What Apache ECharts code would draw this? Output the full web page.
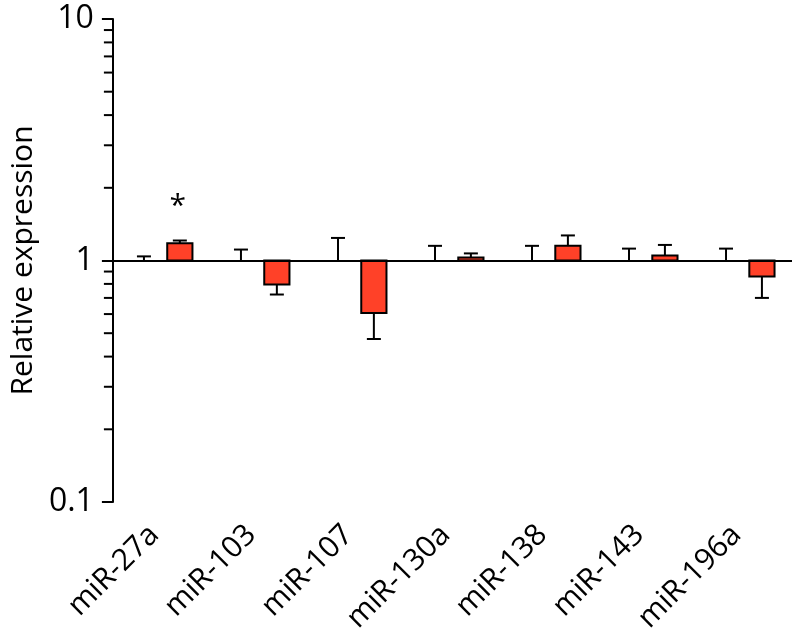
<!DOCTYPE html>
<html>
<head>
<meta charset="utf-8">
<script src="https://cdn.jsdelivr.net/npm/echarts@6/dist/echarts.min.js"></script>
<style>
  html, body { margin: 0; padding: 0; background: #fff; }
  #main { width: 796px; height: 640px; }
</style>
</head>
<body>
<div id="main"></div>
<script>
var categories = ['miR-27a', 'miR-103', 'miR-107', 'miR-130a', 'miR-138', 'miR-143', 'miR-196a'];
var controlValues = [1, 1, 1, 1, 1, 1, 1];
var controlErr = [1.04, 1.11, 1.24, 1.15, 1.15, 1.12, 1.12];
var treatedValues = [1.18, 0.795, 0.606, 1.03, 1.15, 1.05, 0.858];
var treatedErr = [1.21, 0.723, 0.473, 1.07, 1.27, 1.16, 0.70];
var significance = ['*', '', '', '', '', '', ''];
var minorTicks = [0.2, 0.3, 0.4, 0.5, 0.6, 0.7, 0.8, 0.9, 2, 3, 4, 5, 6, 7, 8, 9];

var chartDom = document.getElementById('main');
var myChart = echarts.init(chartDom);
var FONT = 'Open Sans';
var RED = '#ff4128';

function bandWidth(api) {
  return api.coord([1, 1])[0] - api.coord([0, 1])[0];
}

// bars drawn from 1 (baseline) to value, plus one-sided error bar
function makeBarRenderer(offset, fill) {
  return function (params, api) {
    var cat = api.value(0), val = api.value(1), err = api.value(2);
    var sig = significance[params.dataIndex];
    var band = bandWidth(api);
    var base = api.coord([cat, 1]);
    var top = api.coord([cat, val]);
    var errP = api.coord([cat, err]);
    var cx = base[0] + offset * band;
    var w = band * 0.26;
    var cap = 14;
    var children = [];
    var y0 = Math.min(base[1], top[1]);
    var h = Math.abs(base[1] - top[1]);
    children.push({
      type: 'line',
      shape: { x1: cx, y1: top[1], x2: cx, y2: errP[1] },
      style: { stroke: '#000', lineWidth: 2 }
    });
    children.push({
      type: 'line',
      shape: { x1: cx - cap / 2, y1: errP[1], x2: cx + cap / 2, y2: errP[1] },
      style: { stroke: '#000', lineWidth: 2 }
    });
    if (h > 0.5) {
      children.push({
        type: 'rect',
        shape: { x: cx - w / 2, y: y0, width: w, height: h },
        style: { fill: fill, stroke: '#000', lineWidth: 2 }
      });
    }
    if (sig && offset > 0) {
      children.push({
        type: 'text',
        style: {
          text: sig, x: cx - 2, y: Math.min(errP[1], top[1]) - 34,
          align: 'center', verticalAlign: 'middle',
          fontSize: 30, fontFamily: FONT, fill: '#000'
        }
      });
    }
    return { type: 'group', children: children };
  };
}

var option = {
  animation: false,
  backgroundColor: '#fff',
  grid: { left: 112, right: 4, top: 19, bottom: 138 },
  xAxis: {
    type: 'category', data: categories,
    axisLine: { show: false }, axisTick: { show: false },
    axisLabel: {
      rotate: 45, margin: 21, interval: 0, padding: [0, 10, 0, 0],
      fontSize: 30, fontFamily: FONT, color: '#000'
    }
  },
  yAxis: {
    type: 'log', logBase: 10, min: 0.1, max: 10,
    name: 'Relative expression', nameLocation: 'middle', nameGap: 72,
    nameTextStyle: { fontSize: 30, fontFamily: FONT, color: '#000' },
    axisLine: { show: true, lineStyle: { color: '#000', width: 2 } },
    axisTick: { show: true, length: 11, lineStyle: { color: '#000', width: 2 } },
    axisLabel: {
      margin: 19, fontSize: 32, fontFamily: FONT, color: '#000',
      formatter: function (v) { return v >= 1 ? String(Math.round(v)) : '0.1'; }
    },
    splitLine: { show: false }
  },
  series: [
    {
      type: 'custom', name: 'minor ticks', silent: true,
      data: minorTicks.map(function (v) { return [0, v]; }),
      renderItem: function (params, api) {
        var p = api.coord([0, api.value(1)]);
        var x = p[0] - bandWidth(api) / 2;
        return {
          type: 'line',
          shape: { x1: x - 9, y1: p[1], x2: x, y2: p[1] },
          style: { stroke: '#000', lineWidth: 2 }
        };
      }
    },
    {
      type: 'custom', name: 'Control', silent: true,
      data: categories.map(function (c, i) { return [i, controlValues[i], controlErr[i]]; }),
      renderItem: makeBarRenderer(-0.18, '#fff'),
      markLine: {
        silent: true, symbol: 'none', label: { show: false },
        lineStyle: { color: '#000', width: 2, type: 'solid' },
        data: [{ yAxis: 1 }]
      }
    },
    {
      type: 'custom', name: 'Treated', silent: true,
      data: categories.map(function (c, i) { return [i, treatedValues[i], treatedErr[i]]; }),
      renderItem: makeBarRenderer(0.19, RED)
    }
  ]
};

myChart.setOption(option);
</script>
</body>
</html>
